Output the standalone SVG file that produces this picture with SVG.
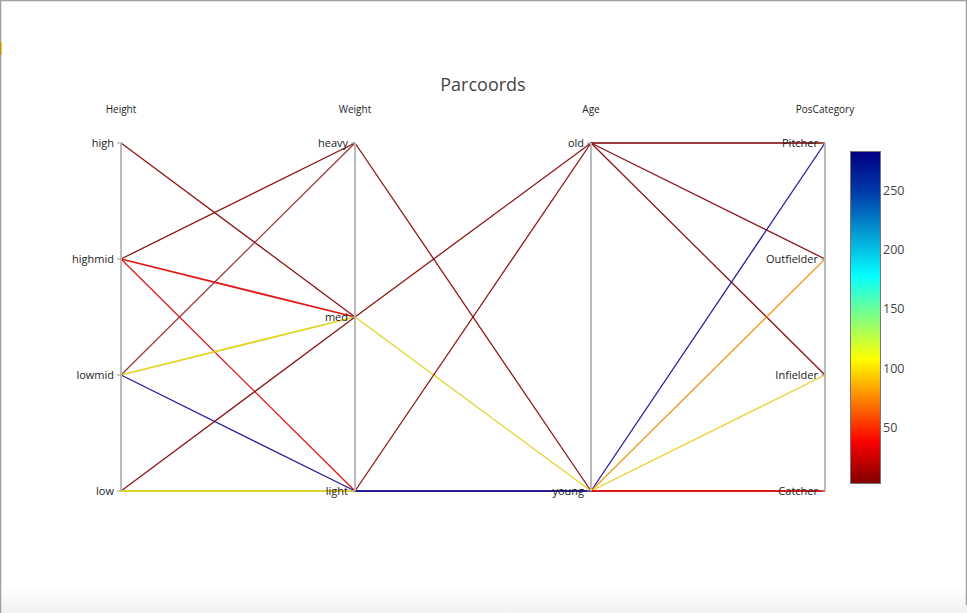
<svg xmlns="http://www.w3.org/2000/svg" width="967" height="613" viewBox="0 0 967 613">
  <style>
    .axis { stroke: #bbbbbb; stroke-width: 2; fill: none; }
    .tick { stroke: #999999; stroke-width: 1; }
    .title { font-family: "Open Sans", "Noto Sans", sans-serif; font-size: 18px; fill: #444444; }
    .atitle { font-family: "Open Sans", "Noto Sans", sans-serif; font-size: 10px; fill: #222222; text-anchor: middle; }
    .tlab { font-family: "Open Sans", "Noto Sans", sans-serif; font-size: 11px; fill: #222222; text-anchor: end; }
    .cblab { font-family: "Open Sans", "Noto Sans", sans-serif; font-size: 12.5px; fill: #444444; }
    .ln { fill: none; stroke-width: 1.3; stroke-opacity: 0.95; }
    .dr { stroke: #850a0a; }
    .br { stroke: #9a3030; }
    .rd { stroke: #dd0c0c; }
    .ye { stroke: #e0d21a; }
    .bl { stroke: #1a128f; }
    .or { stroke: #ee9515; }
  </style>
  <defs>
    <linearGradient id="jet" x1="0" y1="1" x2="0" y2="0">
      <stop offset="0" stop-color="rgb(128,0,0)"/>
      <stop offset="0.125" stop-color="rgb(250,0,0)"/>
      <stop offset="0.375" stop-color="rgb(255,255,0)"/>
      <stop offset="0.625" stop-color="rgb(5,255,255)"/>
      <stop offset="0.875" stop-color="rgb(0,60,170)"/>
      <stop offset="1" stop-color="rgb(0,0,131)"/>
    </linearGradient>
    <linearGradient id="bottomfade" x1="0" y1="0" x2="0" y2="1">
      <stop offset="0" stop-color="#ffffff"/>
      <stop offset="1" stop-color="#f2f2f2"/>
    </linearGradient>
  </defs>

  <rect x="0" y="0" width="967" height="613" fill="#ffffff"/>
  <rect x="0" y="585" width="967" height="28" fill="url(#bottomfade)"/>
  <line x1="0" y1="0.5" x2="967" y2="0.5" stroke="#a0a0a0" stroke-width="1.5"/>
  <line x1="0.5" y1="0" x2="0.5" y2="613" stroke="#a0a0a0" stroke-width="1.5"/>
  <line x1="966.5" y1="0" x2="966.5" y2="605" stroke="#a0a0a0" stroke-width="1.5"/>
  <rect x="0" y="42" width="1.5" height="13" fill="#c89600"/>

  <text class="title" x="483" y="91" text-anchor="middle">Parcoords</text>

  <g id="connectors">
    <!-- Height to Weight -->
    <line class="ln dr" x1="121" y1="143" x2="355" y2="317"/>
    <line class="ln dr" x1="121" y1="259" x2="355" y2="143"/>
    <line class="ln rd" x1="121" y1="259" x2="355" y2="317" style="stroke-width:1.8"/>
    <line class="ln rd" x1="121" y1="259" x2="355" y2="491"/>
    <line class="ln br" x1="121" y1="375" x2="355" y2="143"/>
    <line class="ln ye" x1="121" y1="375" x2="355" y2="317" style="stroke-width:1.8"/>
    <line class="ln bl" x1="121" y1="375" x2="355" y2="491"/>
    <line class="ln dr" x1="121" y1="491" x2="355" y2="317"/>
    <line class="ln ye" x1="121" y1="491" x2="355" y2="491" style="stroke-width:2"/>
    <!-- Weight to Age -->
    <line class="ln dr" x1="355" y1="143" x2="591" y2="491"/>
    <line class="ln dr" x1="355" y1="317" x2="591" y2="143"/>
    <line class="ln ye" x1="355" y1="317" x2="591" y2="491"/>
    <line class="ln dr" x1="355" y1="491" x2="591" y2="143"/>
    <line class="ln bl" x1="355" y1="491" x2="591" y2="491" style="stroke-width:2"/>
    <!-- Age to PosCategory -->
    <line class="ln br" x1="591" y1="143" x2="825" y2="143" style="stroke-width:2"/>
    <line class="ln dr" x1="591" y1="143" x2="825" y2="259"/>
    <line class="ln dr" x1="591" y1="143" x2="825" y2="375"/>
    <line class="ln bl" x1="591" y1="491" x2="825" y2="143"/>
    <line class="ln or" x1="591" y1="491" x2="825" y2="259"/>
    <line class="ln ye" x1="591" y1="491" x2="825" y2="375"/>
    <line class="ln rd" x1="591" y1="491" x2="825" y2="491" style="stroke-width:2"/>
  </g>

  <g id="axis-height">
    <line class="axis" x1="121" y1="143" x2="121" y2="491"/>
    <line class="tick" x1="117" y1="143" x2="121" y2="143"/>
    <line class="tick" x1="117" y1="259" x2="121" y2="259"/>
    <line class="tick" x1="117" y1="375" x2="121" y2="375"/>
    <line class="tick" x1="117" y1="491" x2="121" y2="491"/>
    <text class="atitle" x="121" y="113">Height</text>
    <text class="tlab" x="114" y="147">high</text>
    <text class="tlab" x="114" y="263">highmid</text>
    <text class="tlab" x="114" y="379">lowmid</text>
    <text class="tlab" x="114" y="495">low</text>
  </g>

  <g id="axis-weight">
    <line class="axis" x1="355" y1="143" x2="355" y2="491"/>
    <line class="tick" x1="351" y1="143" x2="355" y2="143"/>
    <line class="tick" x1="351" y1="317" x2="355" y2="317"/>
    <line class="tick" x1="351" y1="491" x2="355" y2="491"/>
    <text class="atitle" x="355" y="113">Weight</text>
    <text class="tlab" x="348" y="147">heavy</text>
    <text class="tlab" x="348" y="321">med</text>
    <text class="tlab" x="348" y="495">light</text>
  </g>

  <g id="axis-age">
    <line class="axis" x1="591" y1="143" x2="591" y2="491"/>
    <line class="tick" x1="587" y1="143" x2="591" y2="143"/>
    <line class="tick" x1="587" y1="491" x2="591" y2="491"/>
    <text class="atitle" x="591" y="113">Age</text>
    <text class="tlab" x="584" y="147">old</text>
    <text class="tlab" x="584" y="495">young</text>
  </g>

  <g id="axis-poscategory">
    <line class="axis" x1="825" y1="143" x2="825" y2="491"/>
    <line class="tick" x1="821" y1="143" x2="825" y2="143"/>
    <line class="tick" x1="821" y1="259" x2="825" y2="259"/>
    <line class="tick" x1="821" y1="375" x2="825" y2="375"/>
    <line class="tick" x1="821" y1="491" x2="825" y2="491"/>
    <text class="atitle" x="825" y="113">PosCategory</text>
    <text class="tlab" x="818" y="147">Pitcher</text>
    <text class="tlab" x="818" y="263">Outfielder</text>
    <text class="tlab" x="818" y="379">Infielder</text>
    <text class="tlab" x="818" y="495">Catcher</text>
  </g>

  <g id="colorbar">
    <rect x="850.5" y="151.5" width="30" height="332" fill="url(#jet)" stroke="#777777" stroke-width="1"/>
    <text class="cblab" x="883" y="195">250</text>
    <text class="cblab" x="883" y="254">200</text>
    <text class="cblab" x="883" y="313">150</text>
    <text class="cblab" x="883" y="373">100</text>
    <text class="cblab" x="883" y="432">50</text>
  </g>
</svg>
